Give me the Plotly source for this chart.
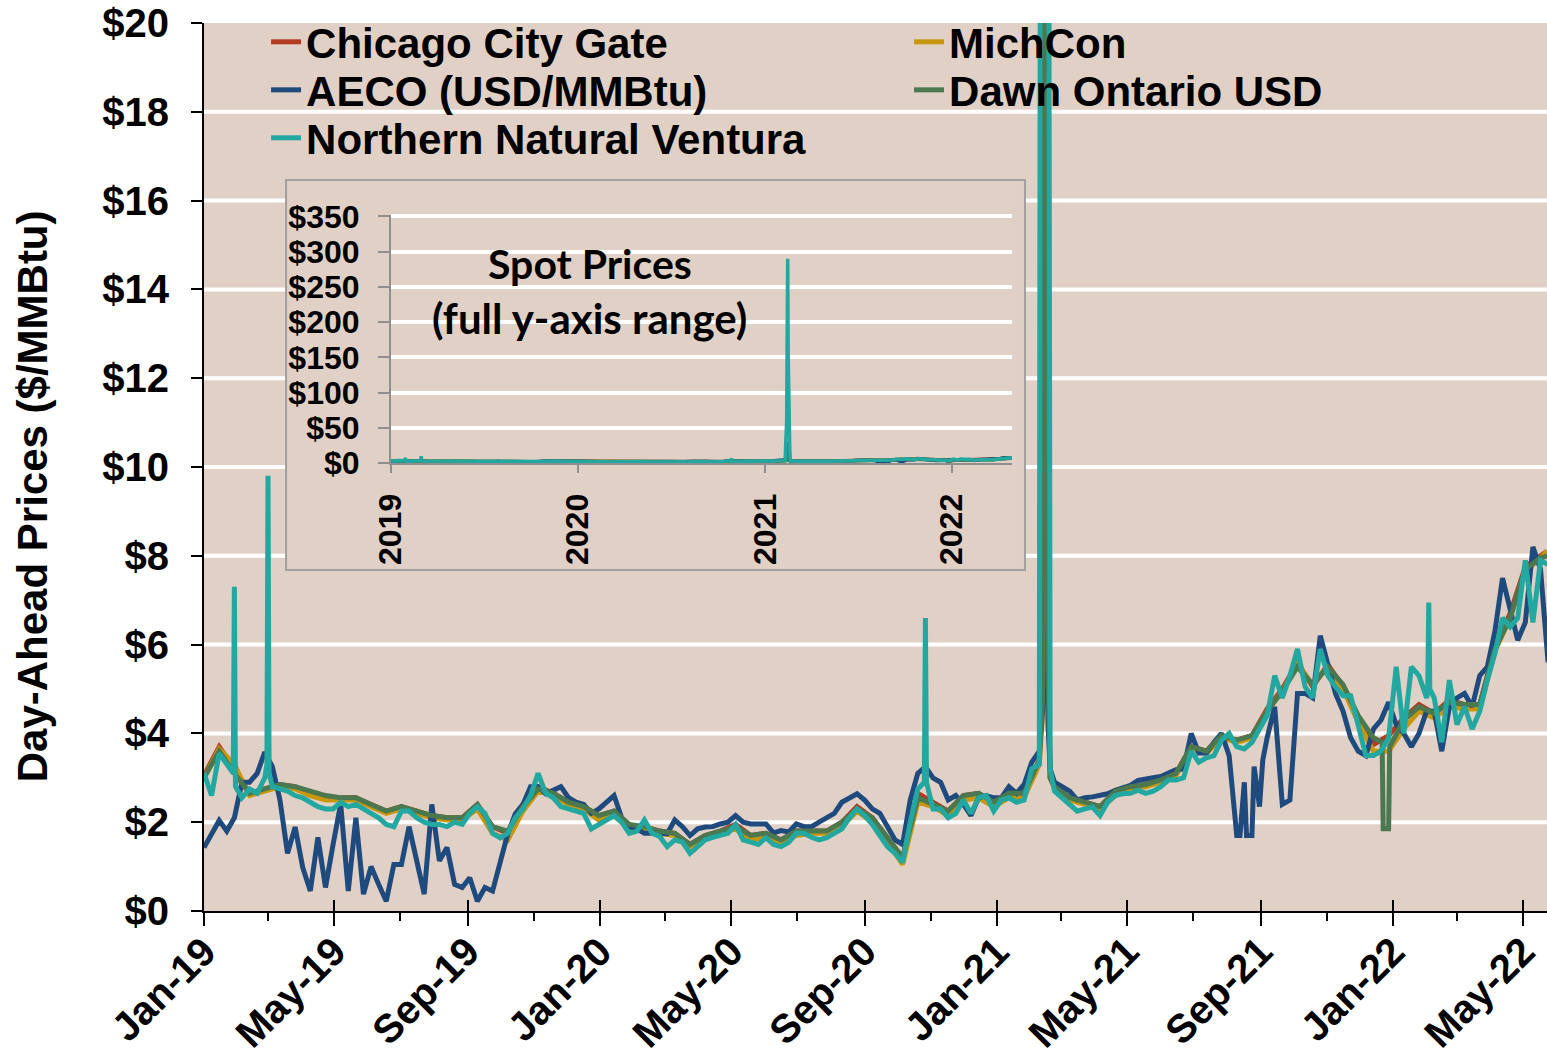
import pandas as pd
import plotly.graph_objects as go

# ---------------- data ----------------
weeks = pd.date_range("2019-01-01", periods=178, freq="7D")
biweeks = weeks[::2]

series_names = ["Chicago City Gate", "MichCon", "AECO (USD/MMBtu)",
                "Dawn Ontario USD", "Northern Natural Ventura"]

nnv_weekly = [
    3.10, 2.60, 3.55, 3.30, 7.30, 2.55, 2.75, 2.65, 3.00, 2.80,
    2.75, 2.70, 2.60, 2.55, 2.45, 2.35, 2.30, 2.30, 2.45, 2.35,
    2.40, 2.30, 2.20, 2.10, 1.95, 1.90, 2.25, 2.25, 2.10, 2.00,
    1.95, 1.95, 1.90, 2.00, 1.95, 2.20, 2.35, 2.20, 1.75, 1.65,
    1.75, 2.10, 2.30, 2.60, 3.10, 2.65, 2.55, 2.35, 2.30, 2.25,
    2.20, 1.85, 1.95, 2.05, 2.15, 2.00, 1.75, 1.80, 2.05, 1.75,
    1.68, 1.45, 1.60, 1.55, 1.30, 1.45, 1.60, 1.66, 1.70, 1.75,
    1.95, 1.60, 1.55, 1.50, 1.65, 1.50, 1.45, 1.55, 1.75, 1.75,
    1.66, 1.60, 1.65, 1.75, 1.85, 2.10, 2.30, 2.15, 1.95, 1.70,
    1.45, 1.30, 1.10, 2.00, 2.75, 6.60, 2.30, 2.30, 2.10, 2.20,
    2.50, 2.20, 2.55, 2.60, 2.25, 2.50, 2.55, 2.45, 2.50, 3.20,
    3.30, 80.0, 2.70, 2.55, 2.40, 2.25, 2.30, 2.34, 2.15, 2.45,
    2.60, 2.64, 2.65, 2.72, 2.65, 2.70, 2.80, 2.95, 2.95, 3.00,
    3.60, 3.35, 3.45, 3.50, 3.85, 4.00, 3.70, 3.65, 3.80, 4.10,
    4.40, 5.30, 4.80, 5.30, 5.90, 5.05, 4.80, 5.90, 5.30, 5.05,
    4.85, 4.85, 4.20, 3.50, 3.50, 3.60, 3.90, 5.50, 4.00, 5.50,
    5.30, 4.80, 4.80, 3.80, 5.20, 4.20, 4.60, 4.10, 4.50, 5.20,
    5.80, 6.60, 6.40, 6.60, 7.90, 6.50, 7.90, 7.80,
]
nnv_extra_dates = ["2019-01-28", "2019-01-30", "2019-02-28", "2019-03-01", "2019-03-02",
                   "2020-10-26", "2020-10-28",
                   "2021-02-10", "2021-02-12", "2021-02-13", "2021-02-14", "2021-02-15",
                   "2021-02-17", "2021-02-18", "2021-02-19",
                   "2022-02-02", "2022-02-03", "2022-02-04"]
nnv_extra_vals = [3.10, 2.80, 3.30, 9.80, 3.10,
                  2.90, 2.90,
                  25.0, 60.0, 188.0, 290.0, 150.0,
                  35.0, 21.0, 3.20,
                  4.90, 6.95, 5.00]

aeco_weekly = [
    1.43, 1.74, 2.04, 1.80, 2.10, 2.90, 2.90, 3.10, 3.58, 3.25,
    2.50, 1.30, 1.89, 0.98, 0.45, 1.66, 0.53, 1.50, 2.41, 0.45,
    2.10, 0.38, 1.00, 0.60, 0.22, 1.05, 1.05, 1.90, 1.13, 0.38,
    2.40, 1.13, 1.43, 0.60, 0.53, 0.75, 0.22, 0.53, 0.45, 1.13,
    1.74, 2.19, 2.40, 2.80, 2.80, 2.64, 2.72, 2.80, 2.55, 2.45,
    2.40, 2.20, 2.30, 2.45, 2.60, 2.10, 1.90, 1.85, 1.75, 1.75,
    1.74, 1.74, 2.05, 1.90, 1.70, 1.85, 1.89, 1.90, 1.96, 2.00,
    2.15, 2.00, 1.96, 1.96, 1.96, 1.76, 1.81, 1.78, 1.96, 1.90,
    1.90, 2.00, 2.10, 2.20, 2.45, 2.55, 2.64, 2.50, 2.30, 2.20,
    1.90, 1.60, 1.50, 2.50, 3.10, 3.25, 3.00, 2.90, 2.50, 2.60,
    2.40, 2.15, 2.55, 2.60, 2.55, 2.55, 2.80, 2.65, 2.85, 3.35,
    3.60, 6.00, 2.90, 2.80, 2.70, 2.50, 2.55, 2.57, 2.60, 2.64,
    2.72, 2.78, 2.83, 2.94, 2.98, 3.00, 3.03, 3.10, 3.18, 3.20,
    4.00, 3.56, 3.56, 3.80, 4.00, 3.50, 1.70, 2.90, 1.70, 2.35,
    3.90, 4.60, 2.40, 2.50, 4.90, 4.90, 4.80, 6.20, 5.50, 4.90,
    4.50, 3.90, 3.60, 3.50, 4.10, 4.30, 4.70, 4.20, 4.00, 3.70,
    4.00, 4.50, 4.50, 3.60, 4.60, 4.80, 4.90, 4.60, 5.30, 5.50,
    6.30, 7.50, 6.80, 6.10, 6.50, 8.20, 7.70, 5.60,
]
aeco_extra_dates = ["2021-02-12", "2021-02-15", "2021-02-17", "2021-02-19",
                    "2021-08-13", "2021-08-19", "2021-08-26", "2021-09-03"]
aeco_extra_vals = [4.50, 9.30, 4.20, 3.20,
                   1.70, 1.70, 3.25, 3.40]

chicago_biweekly = [
    3.05, 3.70, 3.20, 2.65, 2.75, 2.85, 2.80, 2.65, 2.55, 2.55,
    2.55, 2.40, 2.25, 2.35, 2.25, 2.15, 2.10, 2.10, 2.40, 1.90,
    1.75, 2.40, 2.80, 2.65, 2.45, 2.35, 2.15, 2.25, 1.90, 1.90,
    1.80, 1.75, 1.50, 1.70, 1.80, 1.95, 1.70, 1.75, 1.60, 1.80,
    1.80, 1.80, 2.00, 2.35, 2.10, 1.65, 1.20, 2.65, 2.45, 2.25,
    2.60, 2.65, 2.45, 2.65, 2.65, 3.40, 2.80, 2.55, 2.45, 2.35,
    2.70, 2.80, 2.85, 2.95, 3.10, 3.70, 3.60, 3.95, 3.85, 3.95,
    4.55, 5.00, 5.60, 5.05, 5.55, 5.05, 4.35, 3.75, 3.95, 4.35,
    4.65, 4.45, 4.75, 4.65, 4.65, 5.95, 6.70, 7.75, 8.00,
]
chicago_extra_dates = ["2021-02-12", "2021-02-15", "2021-02-17", "2021-02-19", "2022-05-23"]
chicago_extra_vals = [5.00, 30.0, 6.00, 3.00, 8.10]

michcon_biweekly = [
    3.00, 3.65, 3.30, 2.60, 2.70, 2.80, 2.75, 2.60, 2.50, 2.50,
    2.50, 2.35, 2.20, 2.30, 2.20, 2.10, 2.05, 2.05, 2.30, 1.75,
    1.60, 2.25, 2.70, 2.60, 2.40, 2.30, 2.05, 2.15, 1.85, 1.85,
    1.75, 1.70, 1.45, 1.65, 1.75, 1.85, 1.60, 1.65, 1.55, 1.70,
    1.75, 1.75, 1.90, 2.25, 2.00, 1.55, 1.05, 2.45, 2.35, 2.15,
    2.50, 2.55, 2.35, 2.55, 2.55, 3.30, 2.75, 2.50, 2.40, 2.30,
    2.60, 2.75, 2.80, 2.90, 3.05, 3.65, 3.55, 3.90, 3.80, 3.90,
    4.50, 4.95, 5.55, 5.10, 5.50, 5.00, 4.25, 3.60, 3.60, 4.10,
    4.50, 4.35, 4.60, 4.55, 4.55, 5.85, 6.60, 7.65, 7.95,
]
michcon_extra_dates = ["2021-02-12", "2021-02-15", "2021-02-17", "2021-02-19", "2022-05-23"]
michcon_extra_vals = [4.50, 12.0, 5.60, 3.00, 8.10]

dawn_biweekly = [
    3.00, 3.60, 3.10, 2.65, 2.75, 2.85, 2.80, 2.70, 2.60, 2.55,
    2.55, 2.40, 2.25, 2.35, 2.25, 2.15, 2.10, 2.10, 2.40, 1.90,
    1.80, 2.35, 2.75, 2.65, 2.45, 2.35, 2.15, 2.25, 1.95, 1.90,
    1.80, 1.75, 1.50, 1.70, 1.80, 1.90, 1.70, 1.75, 1.60, 1.80,
    1.80, 1.80, 2.00, 2.30, 2.10, 1.65, 1.20, 2.55, 2.40, 2.25,
    2.60, 2.65, 2.45, 2.65, 2.65, 3.40, 2.80, 2.55, 2.45, 2.35,
    2.70, 2.80, 2.85, 2.95, 3.10, 3.70, 3.60, 3.95, 3.85, 3.95,
    4.50, 4.95, 5.50, 5.10, 5.50, 5.10, 4.40, 3.90, 1.85, 4.30,
    4.60, 4.45, 4.70, 4.65, 4.65, 5.90, 6.60, 7.70, 7.95,
]
dawn_extra_dates = ["2021-02-12", "2021-02-15", "2021-02-17", "2021-02-19",
                    "2021-12-22", "2021-12-23", "2021-12-29", "2022-05-23"]
dawn_extra_vals = [4.80, 24.0, 5.50, 3.00,
                   3.80, 1.85, 3.70, 8.00]

y_ticks_main = [0, 2, 4, 6, 8, 10, 12, 14, 16, 18, 20]
y_ticks_inset = [0, 50, 100, 150, 200, 250, 300, 350]
inset_text = ["Spot Prices", "(full y-axis range)"]
y_title = "Day-Ahead Prices ($/MMBtu)"

# ---------------- styles ----------------
BG = "#E0D0C6"
GRAY = "#8F8F8F"
colors = ["#B23A22", "#C9960A", "#1F4A7E", "#4C7850", "#22A8A0"]
legend_ids = ["legend", "legend", "legend2", "legend2", "legend3"]
FONT = "Liberation Sans, Arial, sans-serif"


def build(base_dates, base_vals, ex_dates, ex_vals):
    s = pd.Series(list(base_vals), index=pd.DatetimeIndex(base_dates))
    e = pd.Series(list(ex_vals), index=pd.to_datetime(ex_dates))
    s = pd.concat([s, e])
    s = s[~s.index.duplicated(keep="last")].sort_index()
    return s


series = [
    build(biweeks, chicago_biweekly, chicago_extra_dates, chicago_extra_vals),
    build(biweeks, michcon_biweekly, michcon_extra_dates, michcon_extra_vals),
    build(weeks, aeco_weekly, aeco_extra_dates, aeco_extra_vals),
    build(biweeks, dawn_biweekly, dawn_extra_dates, dawn_extra_vals),
    build(weeks, nnv_weekly, nnv_extra_dates, nnv_extra_vals),
]

fig = go.Figure()
for name, s, c, lg in zip(series_names, series, colors, legend_ids):
    fig.add_trace(go.Scatter(x=s.index, y=s.values, name=name, mode="lines",
                             line=dict(color=c, width=5), xaxis="x", yaxis="y",
                             legend=lg))
for name, s, c in zip(series_names, series, colors):
    fig.add_trace(go.Scatter(x=s.index, y=s.values, name=name, mode="lines",
                             line=dict(color=c, width=3.5), xaxis="x3", yaxis="y3",
                             showlegend=False))
# overlay axis carrying the inward halves of the major x ticks
fig.add_trace(go.Scatter(x=[], y=[], xaxis="x4", yaxis="y", showlegend=False,
                         hoverinfo="skip"))

# main gridlines (drawn as shapes so the inset panel can cover them)
shapes = []
for v in y_ticks_main[1:-1]:
    shapes.append(dict(type="line", xref="paper", yref="y", x0=0, x1=1, y0=v, y1=v,
                       line=dict(color="white", width=4), layer="below"))
# inset panel
shapes.append(dict(type="rect", xref="paper", yref="paper",
                   x0=0.0611, x1=0.6113, y0=0.384, y1=0.8232,
                   fillcolor=BG, line=dict(color="#A0A0A0", width=2), layer="below"))

xrange_main = ["2019-01-01", "2022-05-23"]
tickfont_main = dict(family=FONT, size=40, color="black", weight="bold")
tickfont_inset = dict(family=FONT, size=32, color="black", weight="bold")
legend_font = dict(family=FONT, size=42, color="black", weight="bold")


def legend_row(y):
    return dict(orientation="h", x=0.0462, y=y, xanchor="left", yanchor="middle",
                entrywidth=598, entrywidthmode="pixels", font=legend_font,
                bgcolor="rgba(0,0,0,0)", borderwidth=0)


fig.update_layout(
    template="none",
    width=1547, height=1060,
    paper_bgcolor="white", plot_bgcolor=BG,
    margin=dict(l=204, r=0, t=23, b=149, autoexpand=False),
    showlegend=True,
    shapes=shapes,
    legend=legend_row(0.9786),
    legend2=legend_row(0.9245),
    legend3=legend_row(0.8705),
    xaxis=dict(type="date", range=xrange_main, domain=[0, 1], anchor="y", automargin=False,
               dtick="M4", tick0="2019-01-01", tickformat="%b-%y", tickangle=-45,
               ticks="outside", ticklen=13, tickwidth=2, tickcolor="black",
               showline=True, linecolor="black", linewidth=2,
               showgrid=False, zeroline=False, tickfont=tickfont_main,
               ticklabeloverflow="allow", ticklabelstandoff=-14,
               minor=dict(dtick="M2", tick0="2019-01-01", ticks="outside", ticklen=8,
                          tickwidth=2, tickcolor="black", showgrid=False)),
    xaxis4=dict(type="date", range=xrange_main, overlaying="x", anchor="y", side="bottom",
                automargin=False,
                dtick="M4", tick0="2019-01-01", ticks="inside", ticklen=11, tickwidth=2,
                tickcolor="black", showticklabels=False, showline=False,
                showgrid=False, zeroline=False),
    yaxis=dict(range=[0, 20], tickmode="array", tickvals=y_ticks_main,
               ticktext=["$" + str(v) for v in y_ticks_main], automargin=False,
               ticks="outside", ticklen=11, tickwidth=2, tickcolor="black",
               showline=True, linecolor="black", linewidth=2,
               showgrid=False, zeroline=False, tickfont=tickfont_main,
               ticklabelstandoff=14, ticklabeloverflow="allow"),
    xaxis3=dict(type="date", domain=[0.1392, 0.6016], anchor="y3", automargin=False,
                range=["2019-01-01", "2022-04-28"], dtick="M12", tick0="2019-01-01",
                tickformat="%Y", tickangle=-90, ticks="outside", ticklen=8, tickwidth=1.5,
                tickcolor=GRAY, showline=True, linecolor=GRAY, linewidth=2,
                showgrid=False, zeroline=False, tickfont=tickfont_inset,
                ticklabelstandoff=8),
    yaxis3=dict(domain=[0.5045, 0.7838], anchor="x3", range=[0, 352], automargin=False,
                tickmode="array", tickvals=y_ticks_inset,
                ticktext=["$" + str(v) for v in y_ticks_inset],
                ticks="outside", ticklen=11, tickwidth=1.5, tickcolor=GRAY,
                showline=True, linecolor=GRAY, linewidth=2,
                showgrid=True, gridcolor="white", gridwidth=4, zeroline=False,
                tickfont=tickfont_inset, ticklabelstandoff=12),
    annotations=[
        dict(text=y_title, xref="paper", yref="paper", x=-0.1281, y=0.467,
             textangle=-90, showarrow=False, xanchor="center", yanchor="middle",
             font=dict(family=FONT, size=42, color="black", weight="bold")),
        dict(text=inset_text[0], xref="paper", yref="paper", x=0.2874, y=0.7297,
             showarrow=False, xanchor="center", yanchor="middle",
             font=dict(family="Lato, Open Sans, sans-serif", size=41, color="black",
                       weight="bold")),
        dict(text=inset_text[1], xref="paper", yref="paper", x=0.2874, y=0.6678,
             showarrow=False, xanchor="center", yanchor="middle",
             font=dict(family="Lato, Open Sans, sans-serif", size=42, color="black",
                       weight="bold")),
    ],
)

# remove the browser's default 8 px page margin so the figure fills the window
fig.write_html("out.html", config={"displayModeBar": False},
               post_script="document.body.style.margin='0';document.body.style.overflow='hidden';")
